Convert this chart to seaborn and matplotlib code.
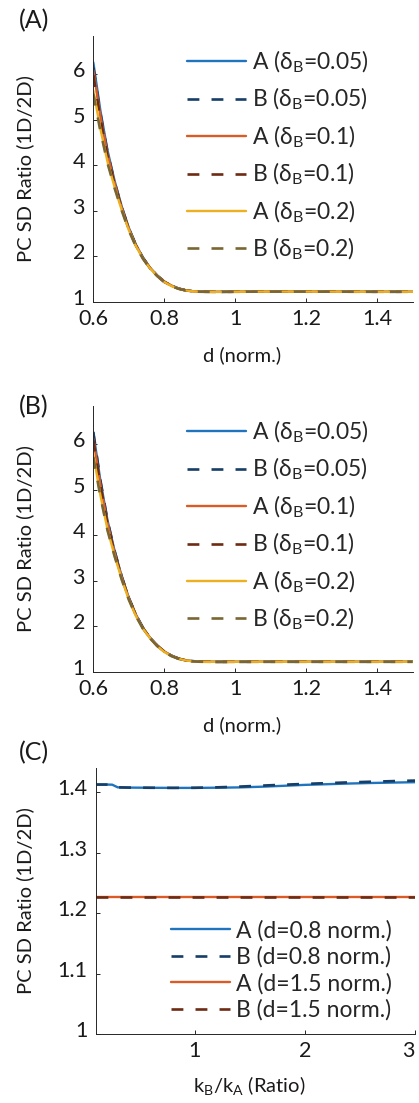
import matplotlib
matplotlib.use("Agg")
import matplotlib.pyplot as plt
import matplotlib.transforms as mtransforms
import seaborn as sns
import numpy as np
import pandas as pd

# ---------------- data ----------------
d_norm = [0.60, 0.62, 0.64, 0.66, 0.68, 0.70, 0.72, 0.74, 0.76, 0.78, 0.80,
          0.82, 0.84, 0.86, 0.88, 0.90, 0.95, 1.00, 1.10, 1.20, 1.30, 1.40, 1.50]

# panel A
a_A005 = [6.26, 5.20, 4.33, 3.66, 3.10, 2.63, 2.26, 1.97, 1.75, 1.58, 1.45,
          1.36, 1.295, 1.258, 1.238, 1.228, 1.223, 1.226, 1.229, 1.229, 1.227, 1.225, 1.225]
a_B005 = [6.15, 5.14, 4.29, 3.63, 3.08, 2.62, 2.25, 1.97, 1.75, 1.58, 1.45,
          1.36, 1.295, 1.258, 1.238, 1.228, 1.223, 1.226, 1.229, 1.229, 1.227, 1.225, 1.225]
a_A01 = [6.09, 5.09, 4.25, 3.61, 3.07, 2.61, 2.25, 1.96, 1.75, 1.58, 1.45,
         1.36, 1.294, 1.257, 1.237, 1.227, 1.223, 1.226, 1.229, 1.229, 1.227, 1.225, 1.225]
a_B01 = [5.98, 5.03, 4.21, 3.59, 3.06, 2.60, 2.24, 1.96, 1.74, 1.57, 1.44,
         1.36, 1.293, 1.256, 1.236, 1.226, 1.222, 1.225, 1.228, 1.228, 1.226, 1.225, 1.225]
a_A02 = [5.65, 4.80, 4.08, 3.52, 3.02, 2.58, 2.23, 1.95, 1.74, 1.57, 1.44,
         1.35, 1.290, 1.255, 1.235, 1.225, 1.222, 1.225, 1.228, 1.228, 1.226, 1.225, 1.225]
a_B02 = [5.57, 4.75, 4.05, 3.50, 3.01, 2.57, 2.22, 1.95, 1.73, 1.57, 1.44,
         1.35, 1.290, 1.255, 1.235, 1.225, 1.222, 1.225, 1.228, 1.228, 1.226, 1.225, 1.225]

# panel B
b_A005 = [6.26, 5.20, 4.33, 3.66, 3.10, 2.63, 2.26, 1.97, 1.75, 1.58, 1.45,
          1.36, 1.295, 1.258, 1.238, 1.228, 1.223, 1.224, 1.225, 1.225, 1.225, 1.225, 1.225]
b_B005 = [6.27, 5.21, 4.33, 3.66, 3.10, 2.63, 2.26, 1.97, 1.75, 1.58, 1.45,
          1.36, 1.295, 1.258, 1.238, 1.228, 1.223, 1.224, 1.225, 1.225, 1.225, 1.225, 1.225]
b_A01 = [6.12, 5.11, 4.27, 3.62, 3.08, 2.62, 2.25, 1.96, 1.75, 1.58, 1.45,
         1.36, 1.294, 1.257, 1.237, 1.227, 1.223, 1.224, 1.225, 1.225, 1.225, 1.225, 1.225]
b_B01 = [6.10, 5.10, 4.26, 3.62, 3.08, 2.62, 2.25, 1.96, 1.75, 1.58, 1.45,
         1.36, 1.294, 1.257, 1.237, 1.227, 1.223, 1.224, 1.225, 1.225, 1.225, 1.225, 1.225]
b_A02 = [5.78, 4.88, 4.13, 3.55, 3.04, 2.59, 2.23, 1.95, 1.74, 1.57, 1.44,
         1.35, 1.290, 1.255, 1.235, 1.225, 1.222, 1.224, 1.225, 1.225, 1.225, 1.225, 1.225]
b_B02 = [5.72, 4.85, 4.11, 3.54, 3.03, 2.59, 2.23, 1.95, 1.74, 1.57, 1.44,
         1.35, 1.290, 1.255, 1.235, 1.225, 1.222, 1.224, 1.225, 1.225, 1.225, 1.225, 1.225]

# panel C
k_ratio = [0.10, 0.20, 0.25, 0.30, 0.40, 0.60, 0.80, 1.00, 1.20, 1.40, 1.60,
           1.80, 2.00, 2.20, 2.40, 2.60, 2.80, 3.00]
c_A08 = [1.4126, 1.4126, 1.4124, 1.4080, 1.4076, 1.4073, 1.4071, 1.4071, 1.4074, 1.4079, 1.4090,
         1.4105, 1.4121, 1.4132, 1.4143, 1.4152, 1.4159, 1.4165]
c_B08 = [1.4126, 1.4126, 1.4124, 1.4080, 1.4076, 1.4073, 1.4071, 1.4073, 1.4080, 1.4092, 1.4108,
         1.4123, 1.4137, 1.4150, 1.4162, 1.4173, 1.4183, 1.4192]
c_A15 = [1.2268] * len(k_ratio)
c_B15 = [1.2268] * len(k_ratio)

labels_ab = ["A (δ$_{\\mathrm{B}}$=0.05)", "B (δ$_{\\mathrm{B}}$=0.05)",
             "A (δ$_{\\mathrm{B}}$=0.1)", "B (δ$_{\\mathrm{B}}$=0.1)",
             "A (δ$_{\\mathrm{B}}$=0.2)", "B (δ$_{\\mathrm{B}}$=0.2)"]
labels_c = ["A (d=0.8 norm.)", "B (d=0.8 norm.)", "A (d=1.5 norm.)", "B (d=1.5 norm.)"]

# ---------------- style ----------------
sns.set_theme(style="ticks")
FONT = "Lato"
plt.rcParams["font.family"] = [FONT, "DejaVu Sans"]
plt.rcParams["mathtext.fontset"] = "custom"
plt.rcParams["mathtext.rm"] = FONT
plt.rcParams["mathtext.it"] = FONT + ":italic"
plt.rcParams["mathtext.bf"] = FONT + ":bold"

AX_COL = "#262626"
TXT = "#1a1a1a"
FS_TICK = 15.5
FS_LAB = 14.5
FS_LEG = 16.5
FS_TAG = 18

colors_ab = ["#1f74bd", "#163e66", "#dc5a25", "#6e2b13", "#edb120", "#7a6633"]
styles_ab = ["-", "--", "-", "--", "-", "--"]
colors_c = ["#1f74bd", "#163e66", "#dc5a25", "#6e2b13"]
styles_c = ["-", "--", "-", "--"]

fig = plt.figure(figsize=(4.19, 11.03), dpi=100)
W, H = 419.0, 1103.0


def make_ax(left, top, right, bottom):
    return fig.add_axes([left / W, 1 - bottom / H, (right - left) / W, (bottom - top) / H])


def style_ax(ax):
    sns.despine(ax=ax)
    for s in ["left", "bottom"]:
        ax.spines[s].set_color(AX_COL)
        ax.spines[s].set_linewidth(0.7)
    ax.tick_params(direction="in", length=3.0, width=0.7, colors=AX_COL,
                   labelsize=FS_TICK, labelcolor=TXT)
    ax.tick_params(axis="y", pad=6)
    ax.tick_params(axis="x", pad=5)
    # MATLAB-like: y tick labels sit slightly above their ticks
    off = mtransforms.ScaledTranslation(0, 5 / 100.0, fig.dpi_scale_trans)
    for lab in ax.get_yticklabels():
        lab.set_transform(lab.get_transform() + off)


def draw(ax, x, series, colors, styles):
    for y, c, ls in zip(series, colors, styles):
        df = pd.DataFrame({"x": x, "y": y})
        lw = 1.7 if ls == "-" else 1.9
        sns.lineplot(data=df, x="x", y="y", ax=ax, color=c, linewidth=lw,
                     linestyle=ls, legend=False)
        if ls == "--":
            ax.lines[-1].set_dashes((4.5, 4.6))


# Panel A
axA = make_ax(93.3, 36, 412.7, 302)
draw(axA, d_norm, [a_A005, a_B005, a_A01, a_B01, a_A02, a_B02], colors_ab, styles_ab)
# Panel B
axB = make_ax(93.3, 406, 412.7, 672)
draw(axB, d_norm, [b_A005, b_B005, b_A01, b_B01, b_A02, b_B02], colors_ab, styles_ab)

for ax, tag, tagy in [(axA, "(A)", 21), (axB, "(B)", 407)]:
    ax.set_xlim(0.6, 1.5)
    ax.set_ylim(1, 6.84)
    ax.set_xticks([0.6, 0.8, 1.0, 1.2, 1.4])
    ax.set_xticklabels(["0.6", "0.8", "1", "1.2", "1.4"])
    ax.set_yticks([1, 2, 3, 4, 5, 6])
    ax.set_yticklabels(["1", "2", "3", "4", "5", "6"])
    style_ax(ax)
    ax.set_xlabel("d (norm.)", fontsize=FS_LAB, color=TXT)
    ax.set_ylabel("PC SD Ratio (1D/2D)", fontsize=FS_LAB, color=TXT)
    ax.xaxis.set_label_coords(0.466, -0.199)
    ax.yaxis.set_label_coords(-0.214, 0.5)
    ax.xaxis.label.set_va("center")
    ax.yaxis.label.set_va("center")
    ax.legend(ax.lines, labels_ab, loc="upper left", bbox_to_anchor=(0.293, 0.952),
              frameon=False, fontsize=FS_LEG, handlelength=2.6, handletextpad=0.26,
              labelspacing=0.49, borderpad=0, borderaxespad=0)
    fig.text(34 / W, 1 - tagy / H, tag, fontsize=FS_TAG, ha="center", va="center", color=TXT)

# Panel C
axC = make_ax(95.7, 768, 415, 1034)
draw(axC, k_ratio, [c_A08, c_B08, c_A15, c_B15], colors_c, styles_c)
axC.set_xlim(0.1, 3)
axC.set_ylim(1, 1.44)
axC.set_xticks([1, 2, 3])
axC.set_xticklabels(["1", "2", "3"])
axC.set_yticks([1, 1.1, 1.2, 1.3, 1.4])
axC.set_yticklabels(["1", "1.1", "1.2", "1.3", "1.4"])
style_ax(axC)
# keep the last x tick label inside the figure
axC.get_xticklabels()[-1].set_horizontalalignment("right")
axC.set_xlabel("k$_{\\mathrm{B}}$/k$_{\\mathrm{A}}$ (Ratio)", fontsize=FS_LAB, color=TXT)
axC.set_ylabel("PC SD Ratio (1D/2D)", fontsize=FS_LAB, color=TXT)
axC.xaxis.set_label_coords(0.48, -0.192)
axC.yaxis.set_label_coords(-0.221, 0.5)
axC.xaxis.label.set_va("center")
axC.yaxis.label.set_va("center")
axC.legend(axC.lines, labels_c, loc="upper left", bbox_to_anchor=(0.235, 0.43),
           frameon=False, fontsize=FS_LEG, handlelength=2.6, handletextpad=0.26,
           labelspacing=0.22, borderpad=0, borderaxespad=0)
fig.text(34 / W, 1 - 753 / H, "(C)", fontsize=FS_TAG, ha="center", va="center", color=TXT)

fig.savefig("out.png", dpi=100)
